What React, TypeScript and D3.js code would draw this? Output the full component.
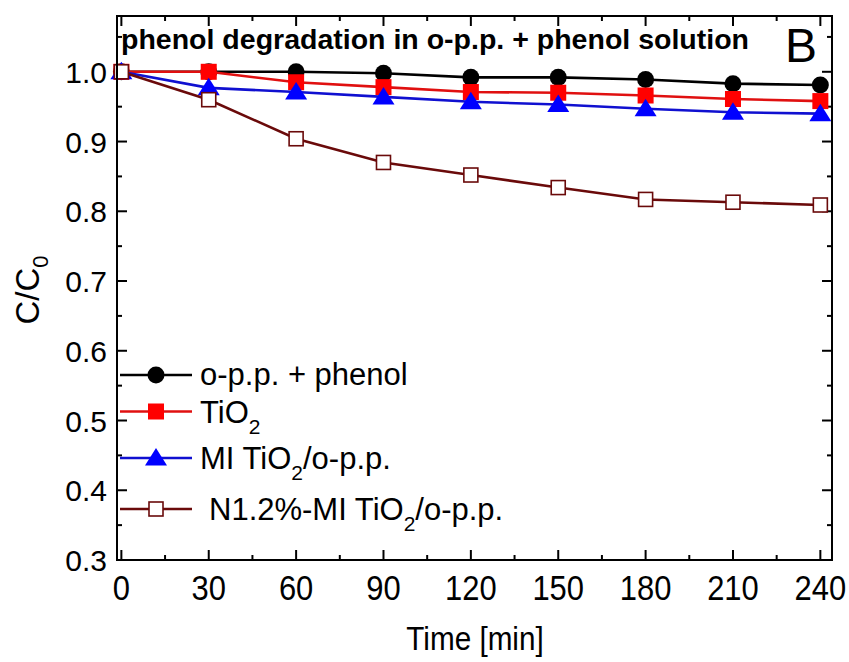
import React from "react";
import * as d3 from "d3";

const times = [0, 30, 60, 90, 120, 150, 180, 210, 240];
const seriesNames = ["o-p.p. + phenol", "TiO2", "MI TiO2/o-p.p.", "N1.2%-MI TiO2/o-p.p."];
const blackVals = [1.0, 1.0, 1.0, 0.998, 0.992, 0.992, 0.989, 0.983, 0.981];
const redVals = [1.0, 1.0, 0.985, 0.978, 0.971, 0.970, 0.966, 0.961, 0.958];
const blueVals = [1.0, 0.977, 0.971, 0.964, 0.957, 0.953, 0.947, 0.942, 0.940];
const brownVals = [1.0, 0.960, 0.904, 0.870, 0.852, 0.834, 0.817, 0.813, 0.809];
const xTicks = [0, 30, 60, 90, 120, 150, 180, 210, 240];
const yTicks = [0.3, 0.4, 0.5, 0.6, 0.7, 0.8, 0.9, 1.0];

const W = 849, H = 662;
const L = 117, R = 832, T = 16, B = 560;
const x = d3.scaleLinear().domain([-1.5, 244]).range([L, R]);
const y = d3.scaleLinear().domain([0.3, 1.08]).range([B, T]);

const FONT = "'Liberation Sans', Arial, sans-serif";

type S = { name: string; vals: number[]; line: string; marker: string };
const series: S[] = [
  { name: seriesNames[0], vals: blackVals, line: "#000000", marker: "circle" },
  { name: seriesNames[1], vals: redVals, line: "#e01010", marker: "square" },
  { name: seriesNames[2], vals: blueVals, line: "#1010d0", marker: "triangle" },
  { name: seriesNames[3], vals: brownVals, line: "#6a0a0a", marker: "open" },
];

function Marker({ type, cx, cy }: { type: string; cx: number; cy: number }) {
  if (type === "circle") return <circle cx={cx} cy={cy} r={8.5} fill="#000" />;
  if (type === "square") return <rect x={cx - 8} y={cy - 8} width={16} height={16} fill="#ff0000" />;
  if (type === "triangle") {
    const s = 10;
    return <path d={`M${cx},${cy - s}L${cx + s * 1.1},${cy + s * 0.75}L${cx - s * 1.1},${cy + s * 0.75}Z`} fill="#0000ff" />;
  }
  return <rect x={cx - 7} y={cy - 7} width={14} height={14} fill="#fff" stroke="#6a0a0a" strokeWidth={1.6} />;
}

export default function App() {
  const line = d3.line<number>().x((_, i) => x(times[i])).y((v) => y(v));
  const xMinor = d3.range(0, 241, 15);
  const yMinor = d3.range(0.3, 1.0801, 0.05);
  const legendRows = [375, 411.5, 458, 509];
  return (
    <svg width={W} height={H} style={{ position: "absolute", left: 0, top: 0, background: "#fff" }}>
      <rect x={0} y={0} width={W} height={H} fill="#fff" />
      {xMinor.map((t) => {
        const maj = t % 30 === 0;
        const len = maj ? 10 : 5;
        return (
          <g key={"xt" + t} stroke="#000" strokeWidth={2}>
            <line x1={x(t)} x2={x(t)} y1={B} y2={B - len} />
            <line x1={x(t)} x2={x(t)} y1={T} y2={T + len} />
          </g>
        );
      })}
      {yMinor.map((t, i) => {
        const maj = i % 2 === 0;
        const len = maj ? 10 : 5;
        return (
          <g key={"yt" + i} stroke="#000" strokeWidth={2}>
            <line x1={L} x2={L + len} y1={y(t)} y2={y(t)} />
            <line x1={R} x2={R - len} y1={y(t)} y2={y(t)} />
          </g>
        );
      })}
      {series.map((s) => (
        <g key={s.name}>
          <path d={line(s.vals) || ""} fill="none" stroke={s.line} strokeWidth={2.6} />
          {s.vals.map((v, i) => (
            <Marker key={i} type={s.marker} cx={x(times[i])} cy={y(v)} />
          ))}
        </g>
      ))}
      <rect x={L} y={T} width={R - L} height={B - T} fill="none" stroke="#000" strokeWidth={2} />
      {yTicks.map((t) => (
        <text key={"yl" + t} x={107} y={y(t) + 11} textAnchor="end" fontFamily={FONT} fontSize={30} fill="#000">
          {t.toFixed(1)}
        </text>
      ))}
      {xTicks.map((t) => (
        <text key={"xl" + t} transform={`translate(${x(t)},600) scale(0.86,1)`} textAnchor="middle" fontFamily={FONT} fontSize={36} fill="#000">
          {t}
        </text>
      ))}
      <text transform="translate(475,650) scale(0.9,1)" textAnchor="middle" fontFamily={FONT} fontSize={33} fill="#000">
        Time [min]
      </text>
      <text transform="translate(39,290) rotate(-90)" textAnchor="middle" fontFamily={FONT} fontSize={33} fill="#000">
        C/C<tspan fontSize={22} dy={9}>0</tspan>
      </text>
      <text x={121} y={49} fontFamily={FONT} fontWeight="bold" fontSize={27} fill="#000" textLength={628} lengthAdjust="spacingAndGlyphs">
        phenol degradation in o-p.p. + phenol solution
      </text>
      <text x={785} y={62} fontFamily={FONT} fontSize={48} fill="#000">B</text>
      {series.map((s, i) => {
        const ly = legendRows[i];
        return (
          <g key={"lg" + i}>
            <line x1={120} x2={192} y1={ly} y2={ly} stroke={s.line} strokeWidth={2.6} />
            <Marker type={s.marker} cx={156} cy={ly} />
          </g>
        );
      })}
      <text x={200} y={legendRows[0] + 10} fontFamily={FONT} fontSize={31} fill="#000">o-p.p. + phenol</text>
      <text x={200} y={legendRows[1] + 11} fontFamily={FONT} fontSize={31} fill="#000">
        TiO<tspan fontSize={21} dy={11}>2</tspan>
      </text>
      <text x={200} y={legendRows[2] + 11} fontFamily={FONT} fontSize={31} fill="#000">
        MI TiO<tspan fontSize={21} dy={11}>2</tspan><tspan dy={-11}>/o-p.p.</tspan>
      </text>
      <text x={209} y={legendRows[3] + 11} fontFamily={FONT} fontSize={31} fill="#000">
        N1.2%-MI TiO<tspan fontSize={21} dy={11}>2</tspan><tspan dy={-11}>/o-p.p.</tspan>
      </text>
    </svg>
  );
}
